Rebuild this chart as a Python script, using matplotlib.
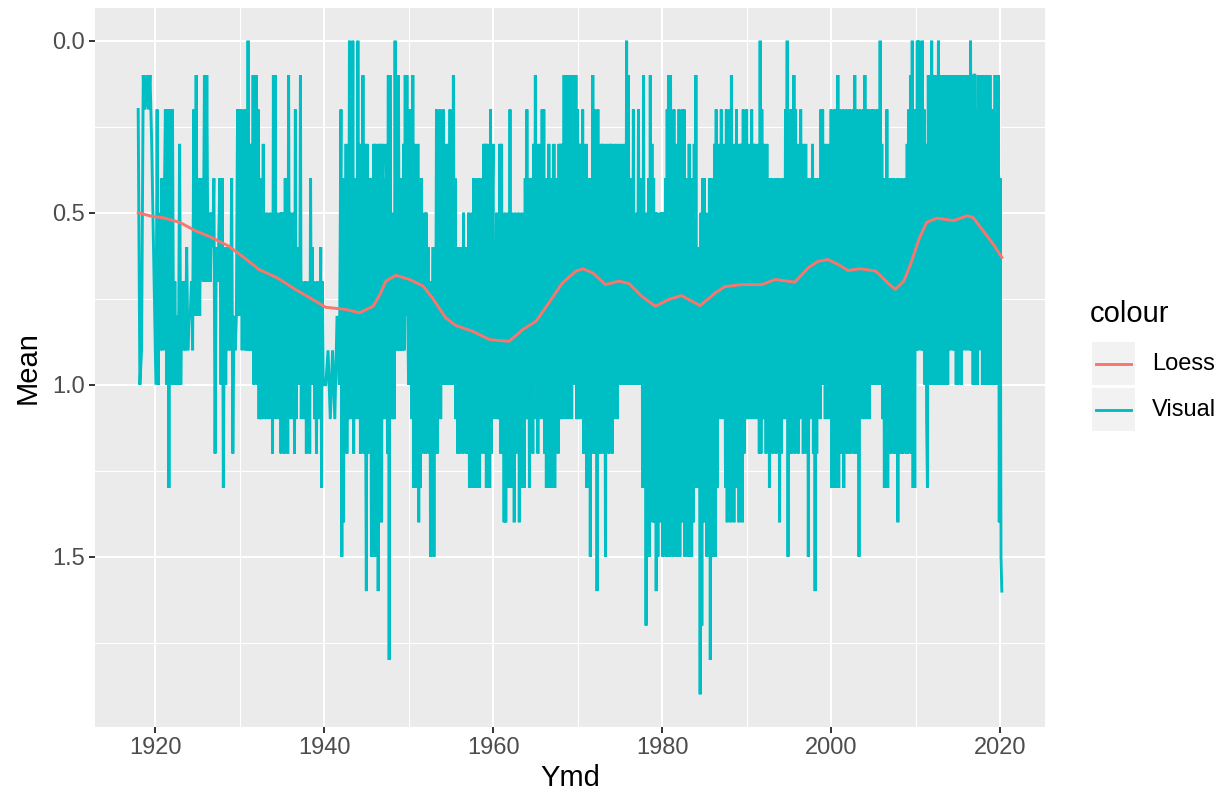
import numpy as np
import matplotlib
matplotlib.use("Agg")
import matplotlib.pyplot as plt
from matplotlib.patches import Rectangle
from matplotlib.lines import Line2D

# ---------------- data ----------------
# Visual series: one character per observation, value in tenths (base-36 digit: '0'..'9','a'=1.0 ... 'j'=1.9)
visual_1918 = "2a9121213"
visual_1920s = ("a2a5949" "52a2d2a2" "a7a8a3a" "7979698" "8792818"
                "4846717" "1757564" "c6764a4" "d6a6969" "4c89828")
visual_1930s = ("2829382939" "0949391a15" "1a2b4b5b3a" "6b5a7b5a6c" "1a1b5a6b5c"
                "5a5c4b5c1a" "5b6a5c2b6a" "6a1b7a8b7c" "8b7c4a6a7b" "8c7a9b6d7a")
visual_1940 = "a9b9b8a"
visual_1940s = ("2f4e6a3c7b" "0b3a0c5a4b" "0a3c5b1c3a" "g3c5b4f6a3"
                "f3e5g3a3e4" "3b4a3c1i1a" "5b6b092919" "5949391818")
visual_1950s = ("a2a3b1d3d4" "d3e5d4c6b5" "c5b6c7f7a6" "f6a2c4a2b3" "a2a4a3a5a2"
                "a3a1a4b6c7" "c6b7c5b7c6" "c5d7d5c4d6" "d4c4d5c4a3" "c3d3b4d2c5")
visual_1960s = ("3b6a5b7b3c" "3c6e5e6c5d" "2d5d6e5c6b" "5e6d5b6d4b" "2b5d4b6c3a"
                "1b4c3a5b2a" "2c4d5c3d4b" "4d3d5b4c3b" "3b3a1b1a1b" "1a3b1a2a1b")
visual_1970s = ("2b3a3b2c4a" "3d5a4f5b1c" "2c4g2b5c3b" "3c5f3b4c3b" "3c4b3a5b3a"
                "4a3a5a3a0a" "1a4a5a2a6a" "5a2a6a4d1a" "6h5c4f1d3e" "4e5g5f6e5d")
visual_1980s = ("5f5e4f2e1f" "1e3f2d4f3e" "2f3e2d2f4c" "4f3e5f4e3c" "1d6c7j5h4e"
                "4c5f6e4i4a" "5f3f2d4a3b" "2a3b4d2e3c" "2e1b4e3c2d" "4e3d3e2c3b")
visual_1990s = ("2b3a4b2a3b" "3a4b3c0c2b" "3b4c3b5d4b" "4c5b4c5b4e" "5c4b4b2a0f"
                "2b2c3b1c2a" "3c4b2a3c4b" "3c4f5b4a3c" "4g5c4a5b2a" "2a3b4a3b4a")
visual_2000s = ("2d3d2c3d1d" "2c3b2d3b2c" "3c2c3b2c1c" "2b3f2a3b2a" "1b2a2b3a2a"
                "2a3a2a3a0a" "3b4d4c2d5c" "4c5b4c5b4e" "4c5c4c5b4c" "3c2b1c0d2d")
visual_2010s = ("2909081909" "2a3bd1a2a0" "a1a2a1a0a1" "a2a1a3a1a2" "91819291a1"
                "a192a19181" "92819091a1" "1a2a19281a" "2a1a1a2a1a" "2a3a1a2a1e")
visual_2020 = "4fg"

# (first year, last year, values) for each stretch of observations
visual_segments = [
    (1918.0, 1919.6, visual_1918),
    (1920.1, 1929.9, visual_1920s),
    (1930.0, 1939.9, visual_1930s),
    (1940.2, 1941.8, visual_1940),
    (1942.0, 1949.9, visual_1940s),
    (1950.0, 1959.9, visual_1950s),
    (1960.0, 1969.9, visual_1960s),
    (1970.0, 1979.9, visual_1970s),
    (1980.0, 1989.9, visual_1980s),
    (1990.0, 1999.9, visual_1990s),
    (2000.0, 2009.9, visual_2000s),
    (2010.0, 2019.9, visual_2010s),
    (2020.0, 2020.2, visual_2020),
]

loess_year = [1918.0, 1919.5, 1921.0, 1922.9, 1924.8, 1926.5, 1928.7, 1930.5, 1932.3,
              1934.5, 1936.6, 1938.5, 1940.2, 1942.5, 1944.2, 1945.8, 1946.6, 1947.3,
              1948.5, 1950.1, 1951.7, 1952.8, 1954.4, 1955.6, 1957.6, 1959.6, 1961.9,
              1963.5, 1965.1, 1966.6, 1968.2, 1969.8, 1970.6, 1971.8, 1973.3, 1974.9,
              1976.1, 1977.6, 1979.2, 1980.8, 1982.3, 1983.5, 1984.5, 1986.3, 1987.4,
              1989.4, 1991.8, 1993.4, 1995.7, 1997.3, 1998.4, 1999.6, 2000.8, 2002.0,
              2003.5, 2005.3, 2006.7, 2007.6, 2008.6, 2009.4, 2010.4, 2011.3, 2012.5,
              2014.5, 2016.1, 2016.8, 2018.0, 2019.2, 2020.2]
loess_mean = [0.500, 0.510, 0.515, 0.528, 0.553, 0.570, 0.597, 0.630, 0.665,
              0.690, 0.723, 0.750, 0.775, 0.781, 0.791, 0.772, 0.738, 0.699,
              0.682, 0.694, 0.713, 0.747, 0.806, 0.828, 0.845, 0.869, 0.874,
              0.840, 0.815, 0.762, 0.704, 0.670, 0.663, 0.675, 0.709, 0.699,
              0.706, 0.743, 0.772, 0.752, 0.741, 0.757, 0.770, 0.733, 0.715,
              0.709, 0.709, 0.694, 0.702, 0.660, 0.642, 0.636, 0.650, 0.668,
              0.663, 0.670, 0.704, 0.723, 0.699, 0.650, 0.577, 0.528, 0.516,
              0.523, 0.509, 0.514, 0.553, 0.592, 0.630]

x_ticks = [1920, 1940, 1960, 1980, 2000, 2020]
y_ticks = [0.0, 0.5, 1.0, 1.5]
y_ticklabels = ["0.0", "0.5", "1.0", "1.5"]
legend_labels = ["Loess", "Visual"]

# --------------- build series ----------------
vis_x, vis_y = [], []
for start, end, s in visual_segments:
    vis_x.extend(np.linspace(start, end, len(s)))
    vis_y.extend(int(c, 36) / 10 for c in s)
vis_x = np.array(vis_x)
vis_y = np.array(vis_y)

# --------------- style ----------------
plt.rcParams['font.family'] = ['Liberation Sans', 'DejaVu Sans']
C_LOESS = "#F8766D"
C_VISUAL = "#00BFC4"
PANEL = "#EBEBEB"

W, H = 1221, 791
fig = plt.figure(figsize=(W / 100, H / 100), dpi=100)
ax = fig.add_axes([95 / W, 1 - 727 / H, (1045 - 95) / W, (727 - 8) / H])
ax.set_facecolor(PANEL)
for sp in ax.spines.values():
    sp.set_visible(False)

ax.plot(vis_x, vis_y, color=C_VISUAL, lw=2.1, solid_joinstyle='miter', zorder=3)
ax.plot(loess_year, loess_mean, color=C_LOESS, lw=2.1, zorder=4)

ax.set_xticks(x_ticks)
ax.set_xticklabels([str(t) for t in x_ticks])
ax.set_xticks([1930, 1950, 1970, 1990, 2010], minor=True)
ax.set_yticks(y_ticks)
ax.set_yticklabels(y_ticklabels)
ax.set_yticks([0.25, 0.75, 1.25, 1.75], minor=True)

# scales (ggplot-style 5% expansion), set after ticks so they are not widened
xmin, xmax = vis_x.min(), vis_x.max()
dx = (xmax - xmin) * 0.05
ax.set_xlim(xmin - dx, xmax + dx)
ymin, ymax = 0.0, 1.9
dy = (ymax - ymin) * 0.05
ax.set_ylim(ymax + dy, ymin - dy)

ax.grid(which='major', color='white', lw=1.5, zorder=0)
ax.grid(which='minor', color='white', lw=0.75, zorder=0)
ax.set_axisbelow(True)
ax.tick_params(which='major', length=4, width=1.4, color='#333333',
               labelsize=17, labelcolor='#4D4D4D', pad=3)
ax.tick_params(which='minor', length=0)

ax.set_xlabel("Ymd", fontsize=21, color='black', labelpad=4)
ax.set_ylabel("Mean", fontsize=21, color='black', labelpad=8)

# --------------- legend (ggplot-like) ----------------
def fx(px):
    return px / W

def fy(py):
    return 1 - py / H

fig.text(fx(1090), fy(314), "colour", fontsize=21, ha='left', va='center')
keys = [(342, C_LOESS), (388, C_VISUAL)]
for (top, col), lab in zip(keys, legend_labels):
    fig.add_artist(Rectangle((fx(1092), fy(top + 43)), 43 / W, 43 / H,
                             transform=fig.transFigure, facecolor='#F2F2F2',
                             edgecolor='none'))
    fig.add_artist(Line2D([fx(1096), fx(1131)], [fy(top + 21.5)] * 2,
                          transform=fig.transFigure, color=col, lw=2.1))
    fig.text(fx(1152), fy(top + 21.5), lab, fontsize=17, ha='left', va='center')

fig.savefig("out.png", dpi=100)
